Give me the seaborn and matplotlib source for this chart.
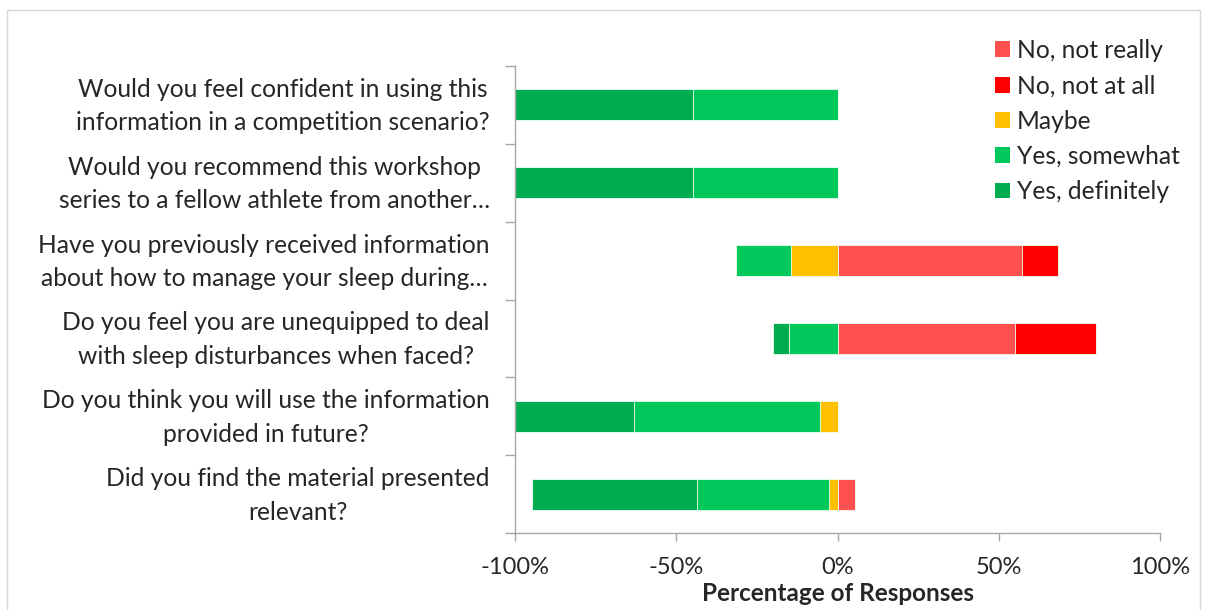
import numpy as np
import pandas as pd
import matplotlib
matplotlib.use("Agg")
import matplotlib.pyplot as plt
import matplotlib.transforms as mtransforms
import seaborn as sns
from matplotlib.patches import Patch, Rectangle

# Survey questions (top to bottom)
questions = [
    "Would you feel confident in using this\ninformation in a competition scenario?",
    "Would you recommend this workshop\nseries to a fellow athlete from another…",
    "Have you previously received information\nabout how to manage your sleep during…",
    "Do you feel you are unequipped to deal\nwith sleep disturbances when faced?",
    "Do you think you will use the information\nprovided in future?",
    "Did you find the material presented\nrelevant?",
]

# Percentages of responses per answer
yes_definitely = [55.1, 55.1, 0.0, 5.0, 36.8, 51.0]
yes_somewhat = [44.9, 44.9, 17.1, 15.0, 57.9, 41.1]
maybe = [0.0, 0.0, 14.3, 0.0, 5.3, 2.6]
no_not_really = [0.0, 0.0, 57.1, 55.0, 0.0, 5.3]
no_not_at_all = [0.0, 0.0, 11.4, 25.0, 0.0, 0.0]

legend_labels = ["No, not really", "No, not at all", "Maybe", "Yes, somewhat", "Yes, definitely"]
colors = {
    "No, not really": "#FF5050",
    "No, not at all": "#FF0000",
    "Maybe": "#FFC000",
    "Yes, somewhat": "#00C85A",
    "Yes, definitely": "#00AC50",
}

sns.set_style("white")
plt.rcParams["font.family"] = ["Lato", "DejaVu Sans"]

df = pd.DataFrame({
    "question": questions,
    "def": yes_definitely,
    "som": yes_somewhat,
    "may": maybe,
    "nr": no_not_really,
    "nall": no_not_at_all,
})
# cumulative extents, drawn from outermost to innermost so segments stack
df["neg_def"] = -(df["may"] + df["som"] + df["def"])
df["neg_som"] = -(df["may"] + df["som"])
df["neg_may"] = -df["may"]
df["pos_nall"] = df["nr"] + df["nall"]
df["pos_nr"] = df["nr"]

fig = plt.figure(figsize=(12.1, 6.1), dpi=100)
ax = fig.add_axes([0.4256, 0.1262, 0.5331, 0.7656])

layers = [
    ("neg_def", "Yes, definitely"),
    ("neg_som", "Yes, somewhat"),
    ("neg_may", "Maybe"),
    ("pos_nall", "No, not at all"),
    ("pos_nr", "No, not really"),
]
for col, lab in layers:
    sns.barplot(data=df, x=col, y="question", orient="h", color=colors[lab],
                width=0.4, saturation=1, edgecolor="#F0FFF0", linewidth=0.6, ax=ax)

ax.set_xlim(-100, 100)
ax.set_ylim(5.5, -0.5)
ax.set_xticks([-100, -50, 0, 50, 100])
ax.set_xticklabels(["-100%", "-50%", "0%", "50%", "100%"])
ax.set_yticks(np.arange(-0.5, len(questions)), minor=True)
ax.tick_params(axis="y", which="major", length=0, pad=18, labelsize=17.7)
ax.tick_params(axis="y", which="minor", length=7, width=1, color="#A6A6A6", left=True)
ax.tick_params(axis="x", which="major", length=6, width=1, color="#A6A6A6",
               bottom=True, pad=11, labelsize=17)
# nudge the question labels up a little
shift = mtransforms.ScaledTranslation(0, 6 / 100, fig.dpi_scale_trans)
for lbl in ax.get_yticklabels():
    lbl.set_multialignment("center")
    lbl.set_linespacing(1.55)
    lbl.set_transform(lbl.get_transform() + shift)

for side in ["top", "right"]:
    ax.spines[side].set_visible(False)
for side in ["left", "bottom"]:
    ax.spines[side].set_color("#A6A6A6")
    ax.spines[side].set_linewidth(1)

ax.set_ylabel("")
ax.set_xlabel("Percentage of Responses", fontsize=17.5, fontweight="bold", labelpad=3)

handles = [Patch(facecolor=colors[l], edgecolor="none") for l in legend_labels]
fig.legend(handles, legend_labels, loc="upper left", bbox_to_anchor=(0.8223, 0.936),
           frameon=False, fontsize=17.7, handlelength=0.61, handleheight=0.61,
           handletextpad=0.28, labelspacing=0.5, borderpad=0, borderaxespad=0)

# light frame around the chart area
fig.patches.append(Rectangle((7 / 1210, -0.01), 1193 / 1210, 1 - 10 / 610 + 0.01,
                             transform=fig.transFigure, fill=False,
                             edgecolor="#D9D9D9", linewidth=1))

fig.savefig("out.png", dpi=100)
